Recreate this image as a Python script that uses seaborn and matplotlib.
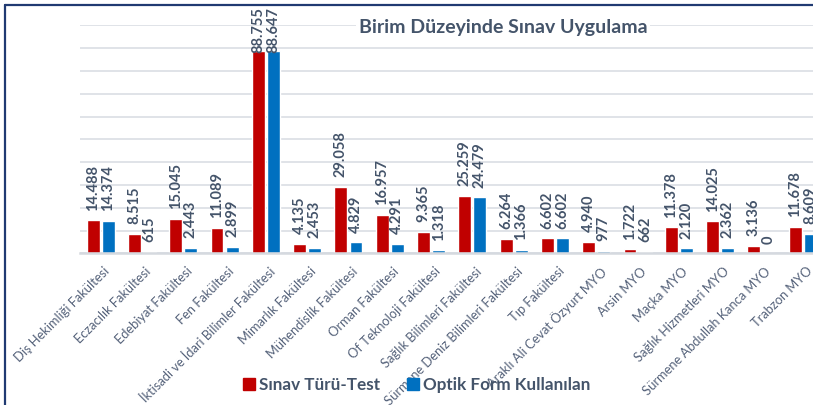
import matplotlib
matplotlib.use("Agg")
import matplotlib.pyplot as plt
import matplotlib.transforms as mtransforms
from matplotlib.lines import Line2D
import seaborn as sns
import pandas as pd

categories = [
    "Diş Hekimliği Fakültesi", "Eczacılık Fakültesi", "Edebiyat Fakültesi",
    "Fen Fakültesi", "İktisadi ve İdari Bilimler Fakültesi", "Mimarlık Fakültesi",
    "Mühendislik Fakültesi", "Orman Fakültesi", "Of Teknoloji Fakültesi",
    "Sağlık Bilimleri Fakültesi", "Sürmene Deniz Bilimleri Fakültesi", "Tıp Fakültesi",
    "Araklı Ali Cevat Özyurt MYO", "Arsin MYO", "Maçka MYO",
    "Sağlık Hizmetleri MYO", "Sürmene Abdullah Kanca MYO", "Trabzon MYO",
]
sinav_test = [14488, 8515, 15045, 11089, 88755, 4135, 29058, 16957, 9365,
              25259, 6264, 6602, 4940, 1722, 11378, 14025, 3136, 11678]
optik_form = [14374, 615, 2443, 2899, 88647, 2453, 4829, 4291, 1318,
              24479, 1366, 6602, 977, 662, 2120, 2362, 0, 8609]
series_names = ["Sınav Türü-Test", "Optik Form Kullanılan"]
title = "Birim Düzeyinde Sınav Uygulama"

RED = "#C00000"
BLUE = "#0070C0"
TXT = "#44546A"
TICK = "#55627A"
GRID = "#DDE1E6"
FRAME = "#203A72"

df = pd.DataFrame({
    "cat": categories * 2,
    "value": sinav_test + optik_form,
    "series": [series_names[0]] * len(categories) + [series_names[1]] * len(categories),
})

sns.set_theme(style="white")
plt.rcParams["font.family"] = ["Lato", "DejaVu Sans"]

W, H = 813, 405
fig = plt.figure(figsize=(W / 100, H / 100), dpi=100)
ax = fig.add_axes([80 / W, (H - 253.3) / H, 743.4 / W, 228 / H])

sns.barplot(data=df, x="cat", y="value", hue="series", palette=[RED, BLUE],
            width=0.73, gap=0.14, saturation=1, legend=False, ax=ax)

ax.set_ylim(0, 100000)
ax.set_yticks(range(0, 100001, 10000))
ax.yaxis.grid(True, color=GRID, linewidth=1.3)
ax.set_axisbelow(True)
ax.tick_params(axis="y", left=False, labelleft=False)
ax.tick_params(axis="x", bottom=False, length=0, pad=8.5)
for s in ["left", "right", "top"]:
    ax.spines[s].set_visible(False)
ax.spines["bottom"].set_color("#D5D9DF")
ax.spines["bottom"].set_linewidth(1.8)
ax.set_xlabel("")
ax.set_ylabel("")

offset = mtransforms.ScaledTranslation(3 / 100, 0, fig.dpi_scale_trans)
for lab in ax.get_xticklabels():
    lab.set_rotation(45)
    lab.set_rotation_mode("anchor")
    lab.set_ha("right")
    lab.set_va("top")
    lab.set_fontsize(9.3)
    lab.set_color(TICK)
    lab.set_transform(lab.get_transform() + offset)

# data labels (Turkish thousands separator); tall labels are kept inside the chart
LABEL_CAP = 83500
for cont in ax.containers:
    for bar in cont:
        v = bar.get_height()
        xc = bar.get_x() + bar.get_width() / 2
        txt = f"{int(round(v)):,}".replace(",", ".")
        ax.annotate(txt, xy=(xc, min(v, LABEL_CAP)), xytext=(0, 7),
                    textcoords="offset points", rotation=90,
                    ha="center", va="bottom", fontsize=10.5, fontweight="bold",
                    color=TXT, annotation_clip=False)

fig.text(503 / W, 1 - 28 / H, title, ha="center", va="center",
         fontsize=14, fontweight="bold", color=TXT,
         bbox=dict(facecolor="white", edgecolor="none", pad=2))

handles = [Line2D([], [], marker="s", linestyle="none", markersize=8,
                  markerfacecolor=c, markeredgecolor=c) for c in (RED, BLUE)]
leg = fig.legend(handles, series_names, loc="center", bbox_to_anchor=(417 / W, 20 / H),
                 ncol=2, frameon=False, handlelength=0.6, handletextpad=0.3,
                 columnspacing=1.6, prop=dict(family=["Lato", "DejaVu Sans"],
                                              weight="bold", size=12.3))
for t in leg.get_texts():
    t.set_color(TXT)

# chart frame (only left and top edges fall inside the picture)
fig.add_artist(Line2D([5 / W, 5 / W], [0, 1 - 5 / H], transform=fig.transFigure,
                      color=FRAME, linewidth=1.6))
fig.add_artist(Line2D([5 / W, 1], [1 - 5 / H, 1 - 5 / H], transform=fig.transFigure,
                      color=FRAME, linewidth=1.6))

fig.savefig("out.png", dpi=100)
